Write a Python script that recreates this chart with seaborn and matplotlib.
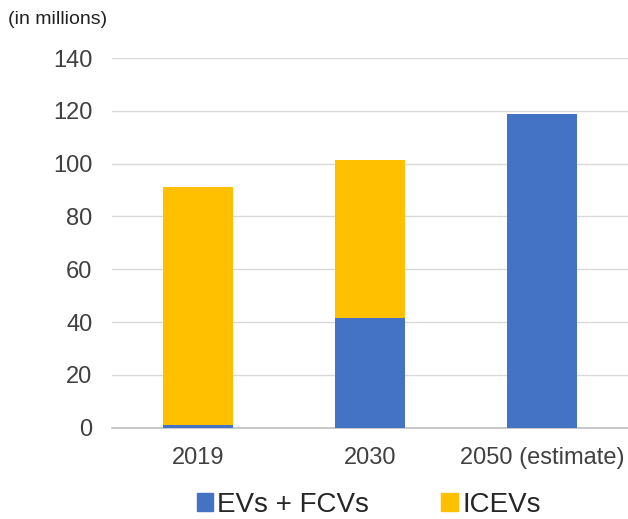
import matplotlib
matplotlib.use("Agg")
import matplotlib.pyplot as plt
import pandas as pd
import seaborn as sns
from matplotlib.patches import Patch

years = ["2019", "2030", "2050 (estimate)"]
ev_fcv = [1.0, 41.7, 119.0]
icev = [90.2, 59.8, 0.0]

BLUE = "#4472C4"
ORANGE = "#FFC000"

sns.set_theme(style="white")
plt.rcParams["font.family"] = ["Liberation Sans", "DejaVu Sans"]

df = pd.DataFrame({"year": years, "ev": ev_fcv, "ice": icev})
df["total"] = df["ev"] + df["ice"]

fig = plt.figure(figsize=(6.28, 5.19), dpi=100)
ax = fig.add_axes([0.178, 0.176, 0.822, 0.712])

# stacked look: total in orange, EV share painted over it in blue
sns.barplot(data=df, x="year", y="total", color=ORANGE, width=0.41,
            saturation=1, linewidth=0, ax=ax, zorder=2)
sns.barplot(data=df, x="year", y="ev", color=BLUE, width=0.41,
            saturation=1, linewidth=0, ax=ax, zorder=3)

ax.set_ylim(0, 140)
ax.set_yticks(range(0, 141, 20))
ax.yaxis.grid(True, color="#D9D9D9", linewidth=1, zorder=0)
ax.set_axisbelow(True)
for s in ["top", "right", "left"]:
    ax.spines[s].set_visible(False)
ax.spines["bottom"].set_color("#BFBFBF")
ax.spines["bottom"].set_linewidth(1.2)
ax.tick_params(axis="both", length=0, labelsize=17, labelcolor="#404040")
ax.tick_params(axis="y", pad=14)
ax.tick_params(axis="x", pad=14)
ax.set_xlabel("")
ax.set_ylabel("")

fig.text(0.012, 0.963, "(in millions)", fontsize=14, color="#222222",
         ha="left", va="center")

handles = [Patch(color=BLUE, label="EVs + FCVs"), Patch(color=ORANGE, label="ICEVs")]
fig.legend(handles=handles, loc="center", bbox_to_anchor=(0.587, 0.027),
           ncol=2, frameon=False, fontsize=20, handlelength=0.6, handleheight=0.6,
           handletextpad=0.15, columnspacing=2.6, labelcolor="#262626")

fig.savefig("out.png", dpi=100)
